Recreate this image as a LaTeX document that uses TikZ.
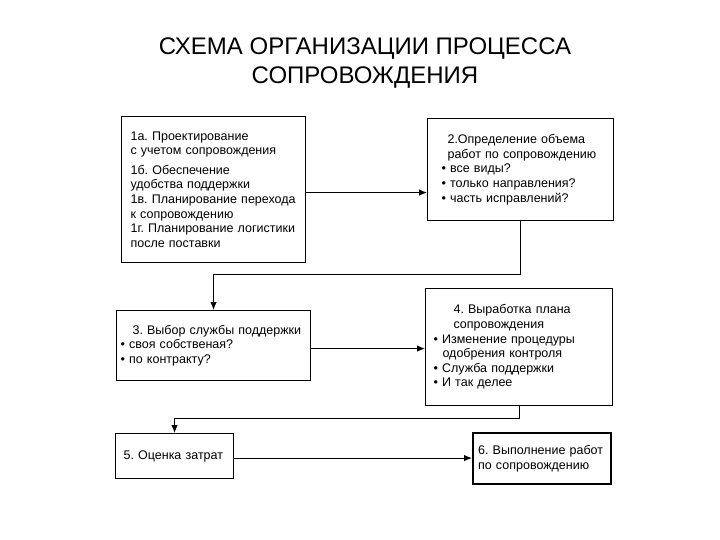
\documentclass[tikz,border=0pt]{standalone}
\usepackage{fontspec}
\setmainfont{Liberation Sans}
\usetikzlibrary{arrows.meta}
\frenchspacing

\begin{document}
\begin{tikzpicture}[x=1pt,y=-1pt,
  stage/.style={draw,line width=1.1pt,anchor=north west,align=left,inner ysep=0pt,font=\fontsize{12.5}{14.6}\selectfont},
  flow/.style={line width=1pt,-{Latex[length=8pt,width=6.5pt]}}]
\useasboundingbox (0,0) rectangle (720,540);
\node[font=\fontsize{24}{29}\selectfont,align=center] (title) at (365,63) {СХЕМА ОРГАНИЗАЦИИ ПРОЦЕССА\\СОПРОВОЖДЕНИЯ};
\node[stage,minimum width=184pt,minimum height=146pt,inner xsep=9pt,text width=166pt] (b1) at (121,116)
  {1а. Проектирование\\с учетом сопровождения\\[5pt]1б. Обеспечение\\удобства поддержки\\1в. Планирование перехода\\к сопровождению\\1г. Планирование логистики\\после поставки};
\node[stage,minimum width=186pt,minimum height=102pt,inner xsep=14pt,text width=158pt] (b2) at (427,118)
  {\hspace{6pt}2.Определение объема\\\hspace{6pt}работ по сопровождению\\• все виды?\\• только направления?\\• часть исправлений?};
\node[stage,minimum width=194pt,minimum height=70pt,inner xsep=4pt,text width=186pt] (b3) at (116,310)
  {\hspace{12pt}3. Выбор службы поддержки\\• своя собственая?\\• по контракту?};
\node[stage,minimum width=187pt,minimum height=117pt,inner xsep=8pt,text width=171pt] (b4) at (425,288)
  {\hspace{20pt}4. Выработка плана\\\hspace{20pt}сопровождения\\• Изменение процедуры\\\hspace{9pt}одобрения контроля\\• Служба поддержки\\• И так делее};
\node[stage,minimum width=118pt,minimum height=45pt,inner xsep=8pt,text width=102pt] (b5) at (115,433)
  {5. Оценка затрат};
\node[stage,line width=2.2pt,minimum width=138pt,minimum height=51pt,inner xsep=5pt,text width=128pt] (b6) at (472,432)
  {6. Выполнение работ\\по сопровождению};
\draw[flow] ([yshift=-3pt]b1.east) -- ([yshift=-3pt]b1.east -| b2.west);
\draw[flow] (b2.south) -- ++(0,53) -| (b3.north);
\draw[flow] ([yshift=-3pt]b3.east) -- ([yshift=-3pt]b3.east -| b4.west);
\draw[flow] (b4.south) -- ++(0,12) -| (b5.north);
\draw[flow] ([yshift=-2pt]b5.east) -- ([yshift=-2pt]b5.east -| b6.west);
\end{tikzpicture}
\end{document}
